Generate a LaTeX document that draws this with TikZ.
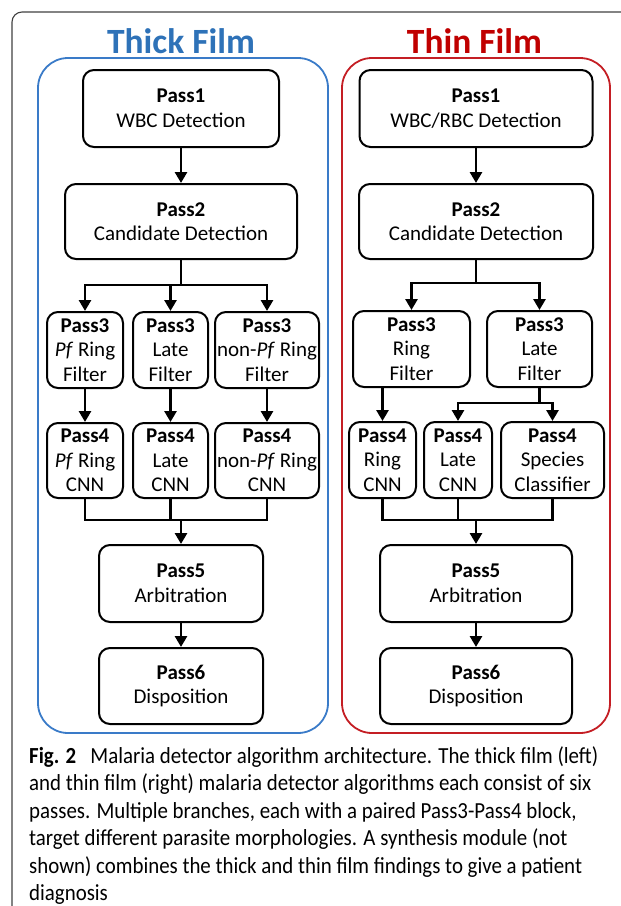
\documentclass[tikz,border=0pt]{standalone}
\usepackage{fontspec}
\setmainfont{Carlito}
\usetikzlibrary{arrows.meta}
\definecolor{thickblue}{HTML}{3A7BC8}
\definecolor{thickttl}{HTML}{2E72B8}
\definecolor{thinred}{HTML}{C41E24}
\definecolor{thinttl}{HTML}{C00000}
\definecolor{framegray}{HTML}{404040}
\newlength{\capw}
\newcommand{\capfont}{\fontsize{23}{26}\selectfont}
\newcommand{\capfirst}{\textbf{Fig. 2}\hspace{0.45em} Malaria detector algorithm architecture. The thick film (left)}
\begin{document}
\settowidth{\capw}{\capfont\capfirst}
\pgfmathsetmacro{\capf}{569/\capw}
\begin{tikzpicture}[x=1pt,y=-1pt,
  box/.style={draw=black, line width=2pt, rounded corners=11pt, align=center,
    inner sep=0pt, font=\fontsize{21}{24.5}\selectfont, fill=white},
  lnk/.style={line width=2.8pt, draw=black},
  arr/.style={lnk, -{Triangle[width=12pt,length=11pt]}},
  container/.style={line width=1.8pt, rounded corners=30pt},
  ttl/.style={font=\fontsize{35.5}{36}\selectfont\bfseries, anchor=base},
  capt/.style={anchor=base west, inner sep=0pt, font=\capfont}
]
\useasboundingbox (0,0) rectangle (621,906);
% outer frame
\draw[framegray, line width=1.1pt, rounded corners=10pt] (12,906) -- (12,12) -- (621,12);
% containers
\draw[container, thickblue] (38,58) rectangle (328,733);
\draw[container, thinred] (342,58) rectangle (610,733);
% titles
\node[ttl, text=thickttl] (ttlA) at (181,53) {Thick Film};
\node[ttl, text=thinttl] (ttlB) at (474.5,53) {Thin Film};

% ---------- Thick film ----------
\node[box, minimum width=196pt, minimum height=77pt] (t1) at (181,108.5) {\textbf{Pass1}\\WBC Detection};
\node[box, minimum width=232pt, minimum height=75pt] (t2) at (181,221.5) {\textbf{Pass2}\\Candidate Detection};
\node[box, minimum width=76pt, minimum height=76pt] (t3a) at (85,350) {\textbf{Pass3}\\\textit{Pf} Ring\\Filter};
\node[box, minimum width=75pt, minimum height=76pt] (t3b) at (170.5,350) {\textbf{Pass3}\\Late\\Filter};
\node[box, minimum width=104pt, minimum height=76pt] (t3c) at (267,350) {\textbf{Pass3}\\non-\textit{Pf} Ring\\Filter};
\node[box, minimum width=76pt, minimum height=75pt] (t4a) at (85,460.5) {\textbf{Pass4}\\\textit{Pf} Ring\\CNN};
\node[box, minimum width=75pt, minimum height=75pt] (t4b) at (170.5,460.5) {\textbf{Pass4}\\Late\\CNN};
\node[box, minimum width=104pt, minimum height=75pt] (t4c) at (267,460.5) {\textbf{Pass4}\\non-\textit{Pf} Ring\\CNN};
\node[box, minimum width=164pt, minimum height=77pt] (t5) at (181,583.5) {\textbf{Pass5}\\Arbitration};
\node[box, minimum width=164pt, minimum height=76pt] (t6) at (181,686) {\textbf{Pass6}\\Disposition};

\coordinate (tb) at (181,285);
\coordinate (tm) at (181,520);
\draw[arr] (t1.south) -- (t2.north);
\draw[lnk] (t2.south) -- (tb);
\draw[arr] (tb) -| (t3a.north);
\draw[arr] (tb) -| (t3c.north);
\draw[arr] (t3b.north |- tb) -- (t3b.north);
\draw[lnk] (t3a.north |- tb) -- (t3c.north |- tb);
\draw[arr] (t3a.south) -- (t4a.north);
\draw[arr] (t3b.south) -- (t4b.north);
\draw[arr] (t3c.south) -- (t4c.north);
\draw[lnk] (t4a.south) |- (tm);
\draw[lnk] (t4c.south) |- (tm);
\draw[lnk] (t4b.south) -- (t4b.south |- tm);
\draw[arr] (tm) -- (t5.north);
\draw[arr] (t5.south) -- (t6.north);

% ---------- Thin film ----------
\node[box, minimum width=233pt, minimum height=77pt] (n1) at (476,108.5) {\textbf{Pass1}\\WBC/RBC Detection};
\node[box, minimum width=234pt, minimum height=75pt] (n2) at (476,221.5) {\textbf{Pass2}\\Candidate Detection};
\node[box, minimum width=117pt, minimum height=76pt] (n3a) at (411.5,349) {\textbf{Pass3}\\Ring\\Filter};
\node[box, minimum width=105pt, minimum height=76pt] (n3b) at (539.5,349) {\textbf{Pass3}\\Late\\Filter};
\node[box, minimum width=67pt, minimum height=76pt] (n4a) at (382.5,460) {\textbf{Pass4}\\Ring\\CNN};
\node[box, minimum width=68pt, minimum height=76pt] (n4b) at (458,460) {\textbf{Pass4}\\Late\\CNN};
\node[box, minimum width=103pt, minimum height=76pt] (n4c) at (552.5,460) {\textbf{Pass4}\\Species\\Classifier};
\node[box, minimum width=192pt, minimum height=77pt] (n5) at (476,583.5) {\textbf{Pass5}\\Arbitration};
\node[box, minimum width=192pt, minimum height=76pt] (n6) at (476,686) {\textbf{Pass6}\\Disposition};

\coordinate (nb) at (476,283);
\coordinate (nl) at (539.5,403);
\coordinate (nm) at (476,520);
\draw[arr] (n1.south) -- (n2.north);
\draw[lnk] (n2.south) -- (nb);
\draw[arr] (nb) -| (n3a.north);
\draw[arr] (nb) -| (n3b.north);
\draw[arr] (n4a.north |- n3a.south) -- (n4a.north);
\draw[lnk] (n3b.south) -- (nl);
\draw[arr] (nl) -| (n4b.north);
\draw[arr] (nl) -| (n4c.north);
\draw[lnk] (n4a.south) |- (nm);
\draw[lnk] (n4c.south) |- (nm);
\draw[lnk] (n4b.south) -- (n4b.south |- nm);
\draw[arr] (nm) -- (n5.north);
\draw[arr] (n5.south) -- (n6.north);

% ---------- caption ----------
\node[capt] (c1) at (29,763) {\scalebox{\capf}[1]{\capfirst}};
\node[capt] (c2) at (29,790.5) {\scalebox{\capf}[1]{and thin film (right) malaria detector algorithms each consist of six}};
\node[capt] (c3) at (29,818) {\scalebox{\capf}[1]{passes. Multiple branches, each with a paired Pass3-Pass4 block,}};
\node[capt] (c4) at (29,845.5) {\scalebox{\capf}[1]{target different parasite morphologies. A synthesis module (not}};
\node[capt] (c5) at (29,873) {\scalebox{\capf}[1]{shown) combines the thick and thin film findings to give a patient}};
\node[capt] (c6) at (29,900.5) {\scalebox{\capf}[1]{diagnosis}};
\end{tikzpicture}
\end{document}
